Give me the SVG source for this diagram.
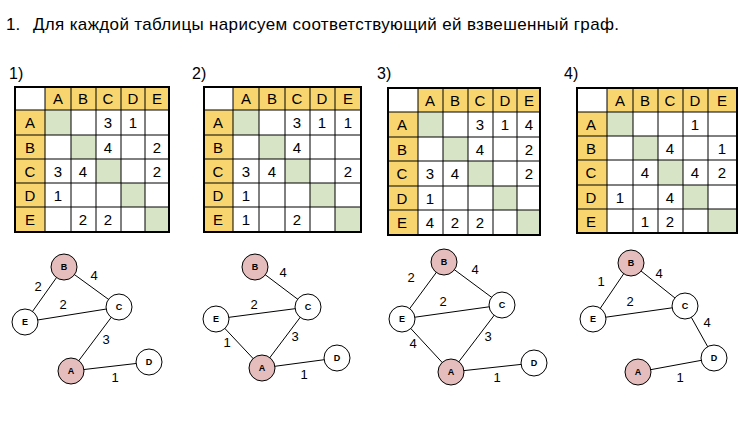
<svg xmlns="http://www.w3.org/2000/svg" width="749" height="422" viewBox="0 0 749 422">
<style>
text{font-family:"Liberation Sans",Arial,sans-serif;fill:#000}
.t{font-size:17px}
.n{font-size:16px}
.c{font-size:15px;text-anchor:middle}
.h{fill:#F9D56F}
.g{fill:#D7E4C5}
.grid{stroke:#000;stroke-width:1;fill:none}
.node circle{stroke:#000;stroke-width:1;fill:#fff}
.node.p circle{fill:#E6BDBD}
.node text{font-size:9px;font-weight:bold;text-anchor:middle}
.e line{stroke:#000;stroke-width:1}
.w{font-size:13px;text-anchor:middle}
</style>
<rect width="749" height="422" fill="#fff"/>
<text class="t" x="6" y="30">1.</text>
<text class="t" x="33" y="30" textLength="586" lengthAdjust="spacing">Для каждой таблицы нарисуем соответствующий ей взвешенный граф.</text>
<text class="n" x="9" y="79">1)</text>
<text class="n" x="192" y="79">2)</text>
<text class="n" x="377" y="79">3)</text>
<text class="n" x="564" y="79">4)</text>

<!-- Table 1 -->
<g id="table1">
<rect class="h" x="45" y="87" width="124" height="23"/>
<rect class="h" x="15" y="110" width="30" height="122"/>
<rect class="g" x="45" y="110" width="26" height="25"/><rect class="g" x="71" y="135" width="25" height="24"/><rect class="g" x="96" y="159" width="25" height="24"/><rect class="g" x="121" y="183" width="24" height="24"/><rect class="g" x="145" y="207" width="24" height="25"/>
<g class="grid"><rect x="15" y="87" width="154" height="145" stroke-width="2"/>
<path d="M45 87V232M71 87V232M96 87V232M121 87V232M145 87V232M15 110H169M15 135H169M15 159H169M15 183H169M15 207H169"/></g>
<g class="c"><text x="58" y="104">A</text><text x="83" y="104">B</text><text x="108" y="104">C</text><text x="133" y="104">D</text><text x="157" y="104">E</text>
<text x="30" y="128">A</text><text x="30" y="153">B</text><text x="30" y="177">C</text><text x="30" y="201">D</text><text x="30" y="225">E</text>
<text x="108" y="128">3</text><text x="133" y="128">1</text>
<text x="108" y="153">4</text><text x="157" y="153">2</text>
<text x="58" y="177">3</text><text x="83" y="177">4</text><text x="157" y="177">2</text>
<text x="58" y="201">1</text>
<text x="83" y="225">2</text><text x="108" y="225">2</text></g>
</g>

<!-- Table 2 -->
<g id="table2">
<rect class="h" x="233" y="87" width="128" height="23"/>
<rect class="h" x="204" y="110" width="29" height="122"/>
<rect class="g" x="233" y="110" width="26" height="25"/><rect class="g" x="259" y="135" width="26" height="24"/><rect class="g" x="285" y="159" width="25" height="24"/><rect class="g" x="310" y="183" width="25" height="24"/><rect class="g" x="335" y="207" width="26" height="25"/>
<g class="grid"><rect x="204" y="87" width="157" height="145" stroke-width="2"/>
<path d="M233 87V232M259 87V232M285 87V232M310 87V232M335 87V232M204 110H361M204 135H361M204 159H361M204 183H361M204 207H361"/></g>
<g class="c"><text x="246" y="104">A</text><text x="272" y="104">B</text><text x="297" y="104">C</text><text x="322" y="104">D</text><text x="348" y="104">E</text>
<text x="218" y="128">A</text><text x="218" y="153">B</text><text x="218" y="177">C</text><text x="218" y="201">D</text><text x="218" y="225">E</text>
<text x="297" y="128">3</text><text x="322" y="128">1</text><text x="348" y="128">1</text>
<text x="297" y="153">4</text>
<text x="246" y="177">3</text><text x="272" y="177">4</text><text x="348" y="177">2</text>
<text x="246" y="201">1</text>
<text x="246" y="225">1</text><text x="297" y="225">2</text></g>
</g>

<!-- Table 3 -->
<g id="table3">
<rect class="h" x="418" y="88" width="122" height="24"/>
<rect class="h" x="388" y="112" width="30" height="123"/>
<rect class="g" x="418" y="112" width="25" height="25"/><rect class="g" x="443" y="137" width="25" height="24"/><rect class="g" x="468" y="161" width="25" height="25"/><rect class="g" x="493" y="186" width="24" height="24"/><rect class="g" x="517" y="210" width="23" height="25"/>
<g class="grid"><rect x="388" y="88" width="152" height="147" stroke-width="2"/>
<path d="M418 88V235M443 88V235M468 88V235M493 88V235M517 88V235M388 112H540M388 137H540M388 161H540M388 186H540M388 210H540"/></g>
<g class="c"><text x="430" y="106">A</text><text x="455" y="106">B</text><text x="480" y="106">C</text><text x="505" y="106">D</text><text x="529" y="106">E</text>
<text x="402" y="130">A</text><text x="402" y="155">B</text><text x="402" y="179">C</text><text x="402" y="204">D</text><text x="402" y="228">E</text>
<text x="480" y="130">3</text><text x="505" y="130">1</text><text x="529" y="130">4</text>
<text x="480" y="155">4</text><text x="529" y="155">2</text>
<text x="430" y="179">3</text><text x="455" y="179">4</text><text x="529" y="179">2</text>
<text x="430" y="204">1</text>
<text x="430" y="228">4</text><text x="455" y="228">2</text><text x="480" y="228">2</text></g>
</g>

<!-- Table 4 -->
<g id="table4">
<rect class="h" x="607" y="88" width="130" height="24"/>
<rect class="h" x="577" y="112" width="30" height="121"/>
<rect class="g" x="607" y="112" width="26" height="24"/><rect class="g" x="633" y="136" width="25" height="24"/><rect class="g" x="658" y="160" width="25" height="25"/><rect class="g" x="683" y="185" width="25" height="24"/><rect class="g" x="708" y="209" width="29" height="24"/>
<g class="grid"><rect x="577" y="88" width="160" height="145" stroke-width="2"/>
<path d="M607 88V233M633 88V233M658 88V233M683 88V233M708 88V233M577 112H737M577 136H737M577 160H737M577 185H737M577 209H737"/></g>
<g class="c"><text x="620" y="106">A</text><text x="645" y="106">B</text><text x="670" y="106">C</text><text x="695" y="106">D</text><text x="722" y="106">E</text>
<text x="591" y="130">A</text><text x="591" y="154">B</text><text x="591" y="178">C</text><text x="591" y="203">D</text><text x="591" y="227">E</text>
<text x="695" y="130">1</text>
<text x="670" y="154">4</text><text x="722" y="154">1</text>
<text x="645" y="178">4</text><text x="695" y="178">4</text><text x="722" y="178">2</text>
<text x="620" y="203">1</text><text x="670" y="203">4</text>
<text x="645" y="227">1</text><text x="670" y="227">2</text></g>
</g>

<!-- Connectors -->
<g id="connectors" class="e">
<line x1="64" y1="267" x2="25" y2="322"/><line x1="64" y1="267" x2="119" y2="307"/><line x1="25" y1="322" x2="119" y2="307"/><line x1="119" y1="307" x2="71" y2="371"/><line x1="71" y1="371" x2="149" y2="362"/>
<line x1="255" y1="267" x2="308" y2="307"/><line x1="216" y1="319" x2="308" y2="307"/><line x1="216" y1="319" x2="262" y2="368"/><line x1="308" y1="307" x2="262" y2="368"/><line x1="262" y1="368" x2="337" y2="358"/>
<line x1="444" y1="262" x2="402" y2="319"/><line x1="444" y1="262" x2="502" y2="305"/><line x1="402" y1="319" x2="502" y2="305"/><line x1="402" y1="319" x2="451" y2="372"/><line x1="502" y1="305" x2="451" y2="372"/><line x1="451" y1="372" x2="534" y2="363"/>
<line x1="631" y1="263" x2="593" y2="319"/><line x1="631" y1="263" x2="685" y2="306"/><line x1="593" y1="319" x2="685" y2="306"/><line x1="685" y1="306" x2="714" y2="358"/><line x1="638" y1="372" x2="714" y2="358"/>
</g>
<g id="weights" class="w">
<text x="38" y="291">2</text><text x="94" y="280">4</text><text x="63" y="309">2</text><text x="106" y="344">3</text><text x="115" y="382">1</text>
<text x="283" y="277">4</text><text x="254" y="309">2</text><text x="227" y="347">1</text><text x="295" y="341">3</text><text x="304" y="379">1</text>
<text x="411" y="282">2</text><text x="475" y="274">4</text><text x="443" y="306">2</text><text x="413" y="348">4</text><text x="488" y="341">3</text><text x="497" y="382">1</text>
<text x="601" y="286">1</text><text x="659" y="278">4</text><text x="630" y="306">2</text><text x="707" y="327">4</text><text x="680" y="382">1</text>
</g>

<!-- Nodes -->
<g id="g1B" class="node p"><circle cx="64" cy="267" r="13"/><text x="64" y="270">B</text></g>
<g id="g1C" class="node"><circle cx="119" cy="307" r="13"/><text x="119" y="310">C</text></g>
<g id="g1E" class="node"><circle cx="25" cy="322" r="13"/><text x="25" y="325">E</text></g>
<g id="g1A" class="node p"><circle cx="71" cy="371" r="13"/><text x="71" y="374">A</text></g>
<g id="g1D" class="node"><circle cx="149" cy="362" r="13"/><text x="149" y="365">D</text></g>

<g id="g2B" class="node p"><circle cx="255" cy="267" r="13"/><text x="255" y="270">B</text></g>
<g id="g2C" class="node"><circle cx="308" cy="307" r="13"/><text x="308" y="310">C</text></g>
<g id="g2E" class="node"><circle cx="216" cy="319" r="13"/><text x="216" y="322">E</text></g>
<g id="g2A" class="node p"><circle cx="262" cy="368" r="13"/><text x="262" y="371">A</text></g>
<g id="g2D" class="node"><circle cx="337" cy="358" r="13"/><text x="337" y="361">D</text></g>

<g id="g3B" class="node p"><circle cx="444" cy="262" r="13"/><text x="444" y="265">B</text></g>
<g id="g3C" class="node"><circle cx="502" cy="305" r="13"/><text x="502" y="308">C</text></g>
<g id="g3E" class="node"><circle cx="402" cy="319" r="13"/><text x="402" y="322">E</text></g>
<g id="g3A" class="node p"><circle cx="451" cy="372" r="13"/><text x="451" y="375">A</text></g>
<g id="g3D" class="node"><circle cx="534" cy="363" r="13"/><text x="534" y="366">D</text></g>

<g id="g4B" class="node p"><circle cx="631" cy="263" r="13"/><text x="631" y="266">B</text></g>
<g id="g4C" class="node"><circle cx="685" cy="306" r="13"/><text x="685" y="309">C</text></g>
<g id="g4E" class="node"><circle cx="593" cy="319" r="13"/><text x="593" y="322">E</text></g>
<g id="g4A" class="node p"><circle cx="638" cy="372" r="13"/><text x="638" y="375">A</text></g>
<g id="g4D" class="node"><circle cx="714" cy="358" r="13"/><text x="714" y="361">D</text></g>
</svg>
